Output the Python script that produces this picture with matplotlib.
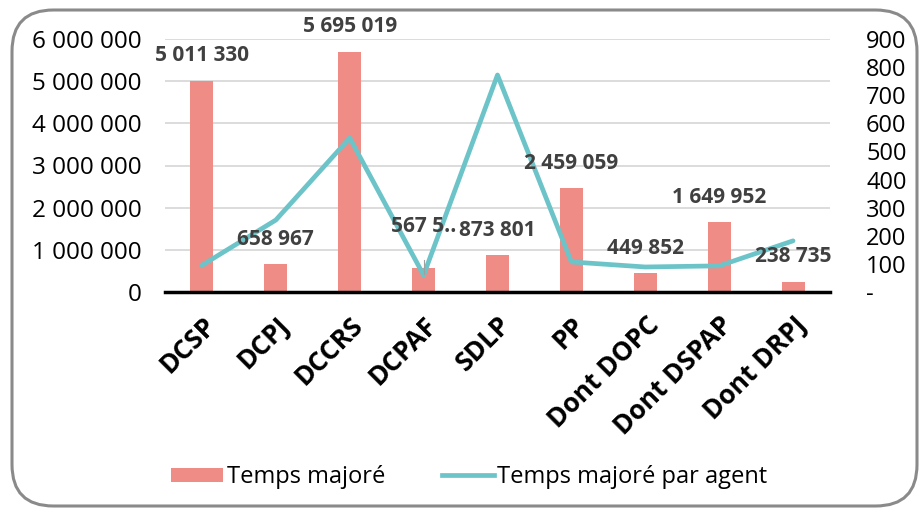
import numpy as np
import matplotlib.pyplot as plt
from matplotlib.patches import FancyBboxPatch
from matplotlib.lines import Line2D
from matplotlib.patches import Patch
from matplotlib.ticker import FuncFormatter

plt.rcParams['font.family'] = ['Open Sans', 'DejaVu Sans']

categories = ['DCSP', 'DCPJ', 'DCCRS', 'DCPAF', 'SDLP', 'PP', 'Dont DOPC', 'Dont DSPAP', 'Dont DRPJ']
temps_majore = [5011330, 658967, 5695019, 567500, 873801, 2459059, 449852, 1649952, 238735]
par_agent = [95, 256, 548, 60, 772, 107, 89, 93, 182]
bar_labels = ['5 011 330', '658 967', '5 695 019', '567 5..', '873 801', '2 459 059', '449 852', '1 649 952', '238 735']

bar_color = '#F08C86'
line_color = '#6CC4C9'

fig = plt.figure(figsize=(9.2, 5.08), dpi=100)
fig.patches.append(FancyBboxPatch((12 / 920, 2 / 508), 905 / 920, 496 / 508,
                                  boxstyle='round,pad=0,rounding_size=0.045',
                                  transform=fig.transFigure, fill=False,
                                  edgecolor='#8a8a8a', linewidth=2.2, mutation_aspect=920 / 508))

ax = fig.add_axes([165 / 920, (508 - 292) / 508, 665 / 920, 253 / 508])
x = np.arange(len(categories))
ax.bar(x, temps_majore, width=0.31, color=bar_color, zorder=2)
ax.set_xlim(-0.5, len(categories) - 0.5)
ax.set_ylim(0, 6000000)
ax.set_yticks(np.arange(0, 6000001, 1000000))
ax.yaxis.set_major_formatter(FuncFormatter(lambda v, p: f'{int(v):,}'.replace(',', ' ')))
ax.grid(axis='y', color='#d9d9d9', linewidth=1.3, zorder=0)
for s in ['top', 'left', 'right']:
    ax.spines[s].set_visible(False)
ax.spines['bottom'].set_linewidth(2.5)
ax.spines['bottom'].set_zorder(5)
ax.tick_params(axis='y', length=0, labelsize=17.5, pad=17)
ax.tick_params(axis='x', length=0, pad=14)
ax.set_xticks(x)
ax.set_xticklabels(categories, rotation=45, ha='right', va='top', rotation_mode='anchor',
                   fontsize=19, fontweight='bold')

ax2 = ax.twinx()
ax2.plot(x, par_agent, color=line_color, linewidth=3.4, solid_capstyle='round', zorder=3)
ax2.set_ylim(0, 900)
ax2.set_yticks(np.arange(0, 901, 100))
ax2.yaxis.set_major_formatter(FuncFormatter(lambda v, p: '-' if v == 0 else f'{int(v)}'))
ax2.tick_params(axis='y', length=0, labelsize=17, pad=26)
for s in ['top', 'left', 'right', 'bottom']:
    ax2.spines[s].set_visible(False)

for i, (v, lab) in enumerate(zip(temps_majore, bar_labels)):
    off = 30 if i == 3 else 18
    ax2.annotate(lab, xy=(i, v * 900 / 6000000), xytext=(0, off), textcoords='offset points',
                 ha='center', va='center', fontsize=15, fontweight='bold', color='#404040', zorder=6)
ax2.plot([3, 3], [60 + 5, 60 + 53], color='#a0a0a0', linewidth=0.8, zorder=4)

handles = [Patch(facecolor=bar_color, edgecolor='none'),
           Line2D([0], [0], color=line_color, linewidth=3.4)]
fig.legend(handles, ['Temps majoré', 'Temps majoré par agent'], loc='center',
           bbox_to_anchor=(0.51, (508 - 477) / 508), ncol=2, frameon=False, fontsize=17,
           handlelength=2.2, handleheight=0.55, handletextpad=0.15, columnspacing=2.4)

fig.savefig('out.png', dpi=100)
